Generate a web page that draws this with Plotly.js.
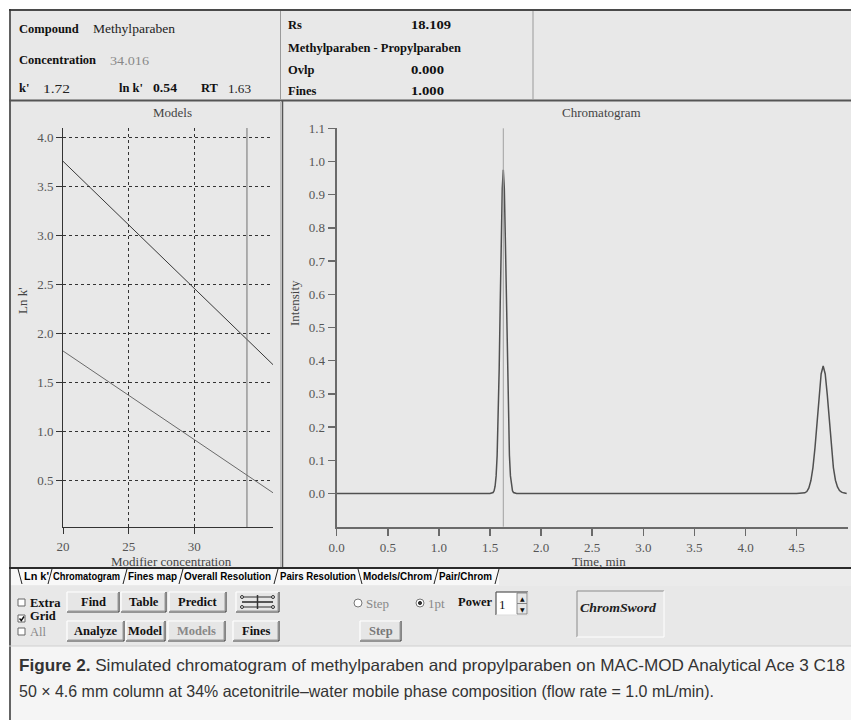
<!DOCTYPE html>
<html><head><meta charset="utf-8">
<script src="https://cdn.plot.ly/plotly-3.0.1.min.js"></script>
<style>html,body{margin:0;padding:0;background:#fff}</style>
</head><body>
<div id="chart" style="width:851px;height:720px"></div>
<script>
// ---------------- data ----------------
const modelConc = [20, 36];
const lnkPropylparaben = [3.76, 1.68];
const lnkMethylparaben = [1.82, 0.37];
const modelXTicks = [20, 25, 30];
const modelYTicks = [0.5, 1.0, 1.5, 2.0, 2.5, 3.0, 3.5, 4.0];

const chromTime = [0.00, 1.50, 1.53, 1.54, 1.55, 1.56, 1.57, 1.58, 1.59, 1.60, 1.61, 1.62, 1.63, 1.64, 1.65, 1.66, 1.67, 1.68, 1.69, 1.70, 1.71, 1.72, 1.73, 1.76,
  4.50, 4.56, 4.58, 4.60, 4.62, 4.64, 4.66, 4.68, 4.70, 4.72, 4.74, 4.76, 4.78, 4.80, 4.82, 4.84, 4.86, 4.88, 4.90, 4.92, 4.94, 4.96, 4.99];
const chromIntensity = [0, 0, 0.003, 0.008, 0.022, 0.053, 0.115, 0.221, 0.377, 0.571, 0.768, 0.919, 0.975, 0.919, 0.768, 0.571, 0.377, 0.221, 0.115, 0.053, 0.022, 0.008, 0.003, 0,
  0, 0.001, 0.002, 0.006, 0.017, 0.039, 0.078, 0.138, 0.216, 0.298, 0.360, 0.384, 0.360, 0.298, 0.216, 0.138, 0.078, 0.040, 0.020, 0.009, 0.004, 0.002, 0];
const chromXTicks = [0, 0.5, 1.0, 1.5, 2.0, 2.5, 3.0, 3.5, 4.0, 4.5];
const chromYTicks = [0, 0.1, 0.2, 0.3, 0.4, 0.5, 0.6, 0.7, 0.8, 0.9, 1.0, 1.1];

const compound = 'Methylparaben';
const concentration = 34.016;
const kPrime = '1.72';
const lnkPrime = '0.54';
const retentionTime = 1.63;
const pairName = 'Methylparaben - Propylparaben';
const rsValue = '18.109';
const ovlpValue = '0.000';
const finesValue = '1.000';
const tabLabels = ["Ln k'", 'Chromatogram', 'Fines map', 'Overall Resolution', 'Pairs Resolution', 'Models/Chrom', 'Pair/Chrom'];
const captionLine1 = '<b>Figure 2.</b> Simulated chromatogram of methylparaben and propylparaben on MAC-MOD Analytical Ace 3 C18';
const captionLine2 = '50 × 4.6 mm column at 34% acetonitrile–water mobile phase composition (flow rate = 1.0 mL/min).';

// ---------------- helpers ----------------
const W = 851, H = 720;
const px = v => v / W;
const py = v => 1 - v / H;
const SERIF = '"Liberation Serif", "Times New Roman", serif';
const SANS = '"Liberation Sans", Arial, sans-serif';
const shapes = [];
const annotations = [];
const fitWidths = {};
function rect(x0, y0, x1, y1, fill, line, layer) {
  shapes.push({type: 'rect', xref: 'paper', yref: 'paper', x0: px(x0), x1: px(x1), y0: py(y1), y1: py(y0),
    fillcolor: fill, line: line || {width: 0}, layer: layer || 'below'});
}
function seg(x0, y0, x1, y1, color, width, layer) {
  shapes.push({type: 'line', xref: 'paper', yref: 'paper', x0: px(x0), y0: py(y0), x1: px(x1), y1: py(y1),
    line: {color: color, width: width}, layer: layer || 'below'});
}
function circ(cx, cy, r, fill, color) {
  shapes.push({type: 'circle', xref: 'paper', yref: 'paper', x0: px(cx - r), x1: px(cx + r), y0: py(cy + r), y1: py(cy - r),
    fillcolor: fill, line: {color: color, width: 1}, layer: 'above'});
}
function text(x, y, t, font, opts, fit) {
  if (fit) fitWidths[annotations.length] = fit;
  annotations.push(Object.assign({xref: 'paper', yref: 'paper', x: px(x), y: py(y), text: t, showarrow: false,
    xanchor: 'left', yanchor: 'middle', align: 'left', font: font, borderpad: 0, borderwidth: 0}, opts || {}));
}
function button(x0, y0, x1, y1, label, color) {
  rect(x0, y0, x1, y1, '#e6e6e6');
  seg(x0, y0, x1, y0, '#ffffff', 1.2);
  seg(x0, y0, x0, y1, '#ffffff', 1.2);
  seg(x0, y1, x1, y1, '#404040', 1.2);
  seg(x1, y0, x1, y1, '#404040', 1.2);
  seg(x0 + 1, y1 - 1, x1 - 1, y1 - 1, '#9a9a9a', 1);
  seg(x1 - 1, y0 + 1, x1 - 1, y1 - 1, '#9a9a9a', 1);
  if (label) text((x0 + x1) / 2, (y0 + y1) / 2, '<b>' + label + '</b>', {family: SERIF, size: 12.5, color: color || '#111'}, {xanchor: 'center', align: 'center'});
}

// ---------------- backgrounds & frame ----------------
rect(9, 9, 851, 646, '#e8e8e8');
rect(9, 646, 851, 720, '#f5f5f5');
rect(9, 569, 851, 586, '#ebebeb');
rect(11, 569, 499, 585, '#f8f8f8');
seg(9, 10, 851, 10, '#4a4a4a', 2);
seg(10, 9, 10, 720, '#333333', 1.5);
seg(9, 100.5, 851, 100.5, '#555555', 2);
seg(280.5, 11, 280.5, 100, '#9a9a9a', 1);
seg(533, 11, 533, 100, '#9a9a9a', 1);
seg(280.5, 101, 280.5, 567, '#bdbdbd', 1);
seg(282.5, 101, 282.5, 567, '#555555', 1.5);
seg(9, 568, 851, 568, '#2a2a2a', 2);
seg(9, 646, 851, 646, '#d0d0d0', 1);

// ---------------- header texts ----------------
const hb = {family: SERIF, size: 12.5, color: '#111'};
const hn = {family: SERIF, size: 13, color: '#222'};
text(19, 29, '<b>Compound</b>', hb);
text(93, 29, compound, hn, null, 82);
text(19, 60, '<b>Concentration</b>', hb);
text(110, 60, concentration.toFixed(3), {family: SERIF, size: 13, color: '#888'}, null, 39);
text(19, 88, "<b>k'</b>", hb);
text(43, 88, kPrime, hn, null, 27);
text(119, 88, "<b>ln k'</b>", hb);
text(153, 88, '<b>' + lnkPrime + '</b>', hb, null, 24);
text(201, 88, '<b>RT</b>', hb);
text(228, 88, retentionTime.toFixed(2), hn, null, 23);
text(288, 25, '<b>Rs</b>', hb);
text(411, 25, '<b>' + rsValue + '</b>', hb, null, 40);
text(288, 48, '<b>' + pairName + '</b>', hb, null, 173);
text(288, 70, '<b>Ovlp</b>', hb);
text(411, 70, '<b>' + ovlpValue + '</b>', hb, null, 33);
text(288, 91, '<b>Fines</b>', hb);
text(411, 91, '<b>' + finesValue + '</b>', hb, null, 33);

// ---------------- plot titles ----------------
const tf = {family: SERIF, size: 13, color: '#444'};
text(172, 112, 'Models', tf, {xanchor: 'center', align: 'center'});
text(601, 112, 'Chromatogram', tf, {xanchor: 'center', align: 'center'});
text(171, 561.5, 'Modifier concentration', tf, {xanchor: 'center', align: 'center'});
text(599, 561.5, 'Time, min', tf, {xanchor: 'center', align: 'center'});
text(22, 301, "Ln k'", tf, {xanchor: 'center', align: 'center', textangle: -90});
text(294, 303, 'Intensity', tf, {xanchor: 'center', align: 'center', textangle: -90});

// ---------------- tabs ----------------
const tabX = [24, 53, 128, 184, 280, 363, 439];
const tabW = [25, 67, 49, 87, 76, 69, 53];
tabLabels.forEach((t, i) => text(tabX[i], 576.5, '<b>' + t + '</b>', {family: SANS, size: 10, color: '#000'}, null, tabW[i]));
[[20, '\\'], [50, '/'], [125, '/'], [181, '/'], [276, '/'], [360, '\\'], [436, '/'], [497, '/']].forEach(s => {
  if (s[1] === '/') seg(s[0] - 2, 584, s[0] + 2, 569, '#222', 1);
  else seg(s[0] - 2, 569, s[0] + 2, 584, '#222', 1);
});

// ---------------- controls ----------------
[[603, 'Extra', '#111', false], [619, 'Grid', '#111', true], [632, 'All', '#888', false]].forEach(c => {
  rect(18, c[0] - 4, 25, c[0] + 3, '#ffffff', {color: '#666', width: 1});
  text(30, c[0] - (c[1] === 'Grid' ? 3 : 0), c[1] === 'All' ? c[1] : '<b>' + c[1] + '</b>', {family: SERIF, size: 12.5, color: c[2]});
  if (c[3]) {
    shapes.push({type: 'path', xref: 'paper', yref: 'paper',
      path: 'M' + px(19.5) + ',' + py(c[0] - 0.5) + ' L' + px(21.3) + ',' + py(c[0] + 1.5) + ' L' + px(24) + ',' + py(c[0] - 2.5),
      line: {color: '#111', width: 1.4}, layer: 'above'});
  }
});
button(67, 592, 119, 612, 'Find');
button(121, 592, 166, 612, 'Table');
button(169, 592, 226, 612, 'Predict');
button(236, 592, 279, 612, '');
seg(242, 597, 273, 597, '#333', 1, 'above');
seg(242, 602, 273, 602, '#333', 1.6, 'above');
seg(242, 607, 273, 607, '#333', 1, 'above');
seg(257.5, 595, 257.5, 609, '#333', 1.5, 'above');
circ(242, 597, 1.5, '#e6e6e6', '#333');
circ(273, 597, 1.5, '#e6e6e6', '#333');
circ(242, 607, 1.5, '#e6e6e6', '#333');
circ(273, 607, 1.5, '#e6e6e6', '#333');
button(67, 621, 124, 641, 'Analyze');
button(126, 621, 165, 641, 'Model');
button(168, 621, 225, 641, 'Models', '#888');
button(233, 621, 279, 641, 'Fines');
button(360, 621, 401, 641, 'Step', '#777');
circ(358, 603, 4, '#ffffff', '#777');
text(366, 603, 'Step', {family: SERIF, size: 13, color: '#888'});
circ(420, 603, 4, '#ffffff', '#777');
circ(420, 603, 1.6, '#333', '#333');
text(428, 603, '1pt', {family: SERIF, size: 13, color: '#888'});
text(458, 602, '<b>Power</b>', hb);
rect(496, 592, 528, 615, '#ffffff');
seg(496, 592, 528, 592, '#555', 1.2);
seg(496, 592, 496, 615, '#555', 1.2);
seg(496, 615, 528, 615, '#dddddd', 1);
seg(528, 592, 528, 615, '#dddddd', 1);
text(499, 604, '1', {family: SERIF, size: 13, color: '#111'});
rect(517, 593, 527, 603.5, '#e6e6e6', {color: '#777', width: 0.8});
rect(517, 603.5, 527, 614, '#e6e6e6', {color: '#777', width: 0.8});
text(522, 598.5, '▲', {family: 'DejaVu Sans', size: 6, color: '#111'}, {xanchor: 'center', align: 'center'});
text(522, 609, '▼', {family: 'DejaVu Sans', size: 6, color: '#111'}, {xanchor: 'center', align: 'center'});
seg(577, 591, 664, 591, '#8a8a8a', 1);
seg(577, 591, 577, 637, '#8a8a8a', 1);
seg(577, 637, 664, 637, '#ffffff', 1);
seg(664, 591, 664, 637, '#ffffff', 1);
text(580, 607, '<b><i>ChromSword</i></b>', {family: SERIF, size: 13, color: '#222'}, null, 76);

// ---------------- caption ----------------
text(19, 665, captionLine1, {family: SANS, size: 16.5, color: '#333'}, null, 826);
text(19, 691, captionLine2, {family: SANS, size: 16.5, color: '#333'}, null, 695);

// ---------------- markers ----------------
shapes.push({type: 'line', xref: 'x', yref: 'y domain', x0: concentration, x1: concentration, y0: 0, y1: 1,
  line: {color: '#707070', width: 1}, layer: 'above'});
shapes.push({type: 'line', xref: 'x2', yref: 'y2 domain', x0: retentionTime, x1: retentionTime, y0: 0, y1: 1,
  line: {color: '#a0a0a0', width: 1}, layer: 'above'});

// ---------------- traces ----------------
const traces = [
  {x: modelConc, y: lnkPropylparaben, type: 'scatter', mode: 'lines', line: {color: '#383838', width: 1}, xaxis: 'x', yaxis: 'y', hoverinfo: 'skip'},
  {x: modelConc, y: lnkMethylparaben, type: 'scatter', mode: 'lines', line: {color: '#6a6a6a', width: 1}, xaxis: 'x', yaxis: 'y', hoverinfo: 'skip'},
  {x: chromTime, y: chromIntensity, type: 'scatter', mode: 'lines', line: {color: '#505050', width: 1.5}, xaxis: 'x2', yaxis: 'y2', hoverinfo: 'skip'}
];

const tickFont = {family: SERIF, size: 13, color: '#555'};
const layout = {
  width: W, height: H,
  margin: {l: 0, r: 0, t: 0, b: 0},
  paper_bgcolor: '#ffffff',
  plot_bgcolor: 'rgba(0,0,0,0)',
  showlegend: false,
  xaxis: {domain: [px(63), px(273)], range: [20, 36], anchor: 'y', showline: true, linecolor: '#333', linewidth: 1,
    ticks: 'outside', ticklen: 6, tickcolor: '#333', tickvals: modelXTicks, tickfont: tickFont,
    showgrid: true, gridcolor: '#333', griddash: '3px,3px', gridwidth: 1, zeroline: false, fixedrange: true, ticklabelstandoff: 1},
  yaxis: {domain: [py(527), py(128)], range: [0.02, 4.1], anchor: 'x', showline: true, linecolor: '#333', linewidth: 1,
    ticks: 'outside', ticklen: 6, tickcolor: '#333', tickvals: modelYTicks, tickformat: '.1f', tickfont: tickFont,
    showgrid: true, gridcolor: '#333', griddash: '3px,3px', gridwidth: 1, zeroline: false, fixedrange: true},
  xaxis2: {domain: [px(336.7), px(847.7)], range: [0, 5], anchor: 'y2', showline: true, linecolor: '#6a6a6a', linewidth: 2,
    ticks: 'outside', ticklen: 7, tickwidth: 1.5, tickcolor: '#6a6a6a', tickvals: chromXTicks, tickformat: '.1f', tickfont: tickFont,
    showgrid: false, zeroline: false, fixedrange: true, ticklabelstandoff: 1},
  yaxis2: {domain: [py(526.7), py(128.3)], range: [-0.1, 1.1], anchor: 'x2', showline: true, linecolor: '#6a6a6a', linewidth: 2,
    ticks: 'outside', ticklen: 7, tickwidth: 1.5, tickcolor: '#6a6a6a', tickvals: chromYTicks, tickformat: '.1f', tickfont: tickFont,
    showgrid: false, zeroline: false, fixedrange: true},
  shapes: shapes,
  annotations: annotations
};

Plotly.newPlot('chart', traces, layout, {displayModeBar: false, staticPlot: true}).then(gd => {
  gd.querySelectorAll('.annotation').forEach(g => {
    const i = +g.getAttribute('data-index');
    if (fitWidths[i]) {
      const t = g.querySelector('text.annotation-text');
      if (t) {
        t.setAttribute('textLength', fitWidths[i]);
        t.setAttribute('lengthAdjust', 'spacingAndGlyphs');
      }
      g.querySelectorAll('rect').forEach(r => r.setAttribute('width', fitWidths[i]));
    }
  });
});
</script>
</body></html>
